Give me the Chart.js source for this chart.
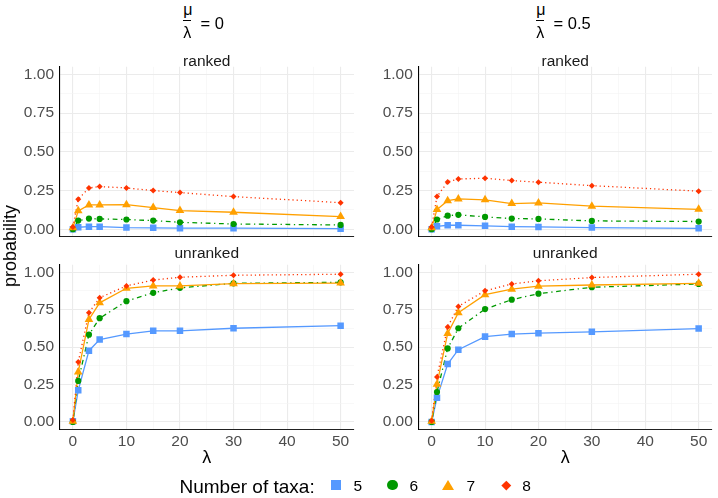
<!DOCTYPE html>
<html>
<head>
<meta charset="utf-8">
<script src="https://cdn.jsdelivr.net/npm/chart.js@4.4.1/dist/chart.umd.min.js"></script>
<style>
  html, body { margin:0; padding:0; background:#fff; }
  body { width:718px; height:498px; position:relative; overflow:hidden; font-family:"Liberation Sans", Arial, sans-serif; }
  .abs { position:absolute; white-space:nowrap; }
  canvas { position:absolute; }
</style>
</head>
<body>
<script>
// ---------------- data ----------------
const lambdas = [0, 1, 3, 5, 10, 15, 20, 30, 50];
const taxa = ["5", "6", "7", "8"];
const xTickValues = [0, 5, 10, 15, 20, 25, 30, 35, 40, 45, 50];
const yTickValues = [0, 0.125, 0.25, 0.375, 0.5, 0.625, 0.75, 0.875, 1.0];

// mu/lambda = 0, ranked
const ranked_mu0_t5 = [0.000, 0.013, 0.017, 0.017, 0.011, 0.009, 0.007, 0.007, 0.004];
const ranked_mu0_t6 = [0.000, 0.056, 0.069, 0.067, 0.063, 0.056, 0.045, 0.034, 0.028];
const ranked_mu0_t7 = [0.009, 0.119, 0.157, 0.157, 0.159, 0.140, 0.121, 0.110, 0.082];
const ranked_mu0_t8 = [0.015, 0.194, 0.267, 0.276, 0.267, 0.250, 0.237, 0.211, 0.172];
// mu/lambda = 0, unranked
const unranked_mu0_t5 = [0.004, 0.211, 0.476, 0.550, 0.587, 0.609, 0.609, 0.626, 0.643];
const unranked_mu0_t6 = [0.000, 0.274, 0.583, 0.693, 0.807, 0.863, 0.896, 0.926, 0.933];
const unranked_mu0_t7 = [0.004, 0.333, 0.685, 0.796, 0.893, 0.909, 0.909, 0.924, 0.928];
const unranked_mu0_t8 = [0.013, 0.400, 0.730, 0.830, 0.909, 0.948, 0.967, 0.980, 0.987];
// mu/lambda = 0.5, ranked
const ranked_mu05_t5 = [0.000, 0.019, 0.026, 0.026, 0.022, 0.017, 0.015, 0.011, 0.006];
const ranked_mu05_t6 = [0.000, 0.063, 0.088, 0.093, 0.080, 0.069, 0.067, 0.054, 0.050];
const ranked_mu05_t7 = [0.009, 0.127, 0.185, 0.196, 0.190, 0.166, 0.170, 0.149, 0.129];
const ranked_mu05_t8 = [0.015, 0.211, 0.306, 0.325, 0.330, 0.315, 0.304, 0.282, 0.246];
// mu/lambda = 0.5, unranked
const unranked_mu05_t5 = [0.000, 0.161, 0.387, 0.483, 0.570, 0.587, 0.593, 0.602, 0.624];
const unranked_mu05_t6 = [0.000, 0.200, 0.491, 0.626, 0.754, 0.817, 0.857, 0.900, 0.922];
const unranked_mu05_t7 = [0.004, 0.252, 0.591, 0.730, 0.850, 0.887, 0.907, 0.915, 0.926];
const unranked_mu05_t8 = [0.007, 0.300, 0.635, 0.772, 0.876, 0.922, 0.943, 0.965, 0.987];

// ---------------- styles ----------------
const colors = ["#5599FF", "#009900", "#FFA000", "#FF3300"];
const shapes = ["rect", "circle", "triangle", "rectRot"];
const radii = [4.6, 3.1, 5.0, 3.0];
const dashes = [[], [1.3, 3.6, 4.8, 3.6], [], [1.2, 3.0]];
const FONT = '"Liberation Sans", Arial, sans-serif';

function isMajorY(v) { return Math.abs(v * 4 - Math.round(v * 4)) < 1e-9; }
function isMajorX(v) { return Math.abs(v % 10) < 1e-9; }

function buildDatasets(seriesList) {
  const lines = seriesList.map((s, i) => ({
    data: lambdas.map((x, k) => ({ x: x, y: s[k] })),
    borderColor: colors[i], borderWidth: 1.3, borderDash: dashes[i],
    pointRadius: 0, tension: 0, fill: false, order: 10 + (3 - i)
  }));
  const pts = seriesList.map((s, i) => ({
    data: lambdas.map((x, k) => ({ x: x, y: s[k] })),
    showLine: false, pointStyle: shapes[i], pointRadius: radii[i],
    pointBackgroundColor: colors[i], pointBorderWidth: 0, pointBorderColor: colors[i],
    order: (3 - i)
  }));
  return lines.concat(pts);
}

function makePanel(left, top, width, height, seriesList, opt) {
  const c = document.createElement('canvas');
  c.width = width; c.height = height;
  c.style.left = left + 'px'; c.style.top = top + 'px';
  c.style.width = width + 'px'; c.style.height = height + 'px';
  document.body.appendChild(c);
  new Chart(c.getContext('2d'), {
    type: 'line',
    data: { datasets: buildDatasets(seriesList) },
    options: {
      responsive: false, animation: false, maintainAspectRatio: false,
      layout: { padding: { left: 0, right: opt.padRight, top: opt.padTop, bottom: 0 } },
      plugins: { legend: { display: false }, tooltip: { enabled: false } },
      scales: {
        x: {
          type: 'linear', min: -2.5, max: 52.5,
          afterBuildTicks: s => { s.ticks = xTickValues.map(v => ({ value: v })); },
          afterFit: s => { s.height = opt.xh; },
          ticks: {
            display: opt.showX, autoSkip: false, maxRotation: 0, padding: 3,
            color: '#4D4D4D', font: { family: FONT, size: 15.5 },
            callback: v => isMajorX(v) ? String(v) : ''
          },
          grid: {
            drawTicks: false,
            color: ctx => (ctx.tick && isMajorX(ctx.tick.value)) ? '#EBEBEB' : '#F4F4F4',
            lineWidth: ctx => (ctx.tick && isMajorX(ctx.tick.value)) ? 1.1 : 0.6
          },
          border: { display: true, color: '#222', width: 1.1 }
        },
        y: {
          type: 'linear', min: -0.05, max: 1.05,
          afterBuildTicks: s => { s.ticks = yTickValues.map(v => ({ value: v })); },
          afterFit: s => { s.width = opt.yw; },
          ticks: {
            autoSkip: false, padding: 5.5,
            color: '#4D4D4D', font: { family: FONT, size: 15.5 },
            callback: v => isMajorY(v) ? v.toFixed(2) : ''
          },
          grid: {
            drawTicks: false,
            color: ctx => (ctx.tick && isMajorY(ctx.tick.value)) ? '#EBEBEB' : '#F4F4F4',
            lineWidth: ctx => (ctx.tick && isMajorY(ctx.tick.value)) ? 1.1 : 0.6
          },
          border: { display: true, color: '#000', width: 1.1 }
        }
      }
    }
  });
}

function addText(txt, left, top, size, color, extra) {
  const d = document.createElement('div');
  d.className = 'abs';
  d.textContent = txt;
  d.style.left = left + 'px'; d.style.top = top + 'px';
  d.style.fontSize = size + 'px'; d.style.lineHeight = size + 'px';
  d.style.color = color;
  if (extra) Object.assign(d.style, extra);
  document.body.appendChild(d);
  return d;
}

// panels
makePanel(0, 40, 360, 220, [ranked_mu0_t5, ranked_mu0_t6, ranked_mu0_t7, ranked_mu0_t8],
  { yw: 59.5, padRight: 6, padTop: 26.8, xh: 23, showX: false });
makePanel(0, 250, 360, 200, [unranked_mu0_t5, unranked_mu0_t6, unranked_mu0_t7, unranked_mu0_t8],
  { yw: 59.5, padRight: 6, padTop: 10.6, xh: 20.6, showX: true });
makePanel(358, 40, 360, 220, [ranked_mu05_t5, ranked_mu05_t6, ranked_mu05_t7, ranked_mu05_t8],
  { yw: 60.3, padRight: 6, padTop: 26.8, xh: 23, showX: false });
makePanel(358, 250, 360, 200, [unranked_mu05_t5, unranked_mu05_t6, unranked_mu05_t7, unranked_mu05_t8],
  { yw: 60.3, padRight: 6, padTop: 10.6, xh: 20.6, showX: true });

// column titles (mu / lambda = value)
function colTitle(x0, valueText) {
  addText('\u03BC', x0 + 0.2, 1.5, 16, '#000');
  const bar = document.createElement('div');
  bar.className = 'abs';
  Object.assign(bar.style, { left: x0 + 'px', top: '20.2px', width: '7.6px', height: '1px', background: '#000' });
  document.body.appendChild(bar);
  addText('\u03BB', x0 + 0.3, 24.8, 16, '#000');
  addText('= ' + valueText, x0 + 17.5, 14.8, 16.5, '#000');
}
colTitle(183, '0');
colTitle(536, '0.5');

// strip labels
function strip(txt, cx, top) {
  addText(txt, cx, top, 15.5, '#1A1A1A', { transform: 'translateX(-50%)', lineHeight: '16px' });
}
strip('ranked', 206.8, 52.6);
strip('unranked', 206.8, 244.6);
strip('ranked', 565.2, 52.6);
strip('unranked', 565.2, 244.6);

// axis titles
addText('\u03BB', 206.8, 447.8, 18, '#000', { transform: 'translateX(-50%)' });
addText('\u03BB', 565.2, 447.8, 18, '#000', { transform: 'translateX(-50%)' });
addText('probability', 10.3, 246, 18, '#000', { transform: 'translate(-50%,-50%) rotate(-90deg)' });

// legend
addText('Number of taxa:', 179.5, 476.8, 19, '#000');
function marker(style) {
  const m = document.createElement('div');
  m.className = 'abs';
  Object.assign(m.style, style);
  document.body.appendChild(m);
}
marker({ left: '330.7px', top: '480px', width: '10px', height: '10px', background: colors[0] });
marker({ left: '387.2px', top: '479.8px', width: '10.4px', height: '10.4px', borderRadius: '50%', background: colors[1] });
marker({ left: '442.3px', top: '479.8px', width: '0', height: '0', borderLeft: '6.9px solid transparent', borderRight: '6.9px solid transparent', borderBottom: '10.2px solid ' + colors[2] });
marker({ left: '502.5px', top: '481.8px', width: '6.6px', height: '6.6px', background: colors[3], transform: 'rotate(45deg)' });
const legX = [353.5, 409.5, 466.5, 522.3];
taxa.forEach((t, i) => addText(t, legX[i], 477.6, 15.5, '#000'));
</script>
</body>
</html>
